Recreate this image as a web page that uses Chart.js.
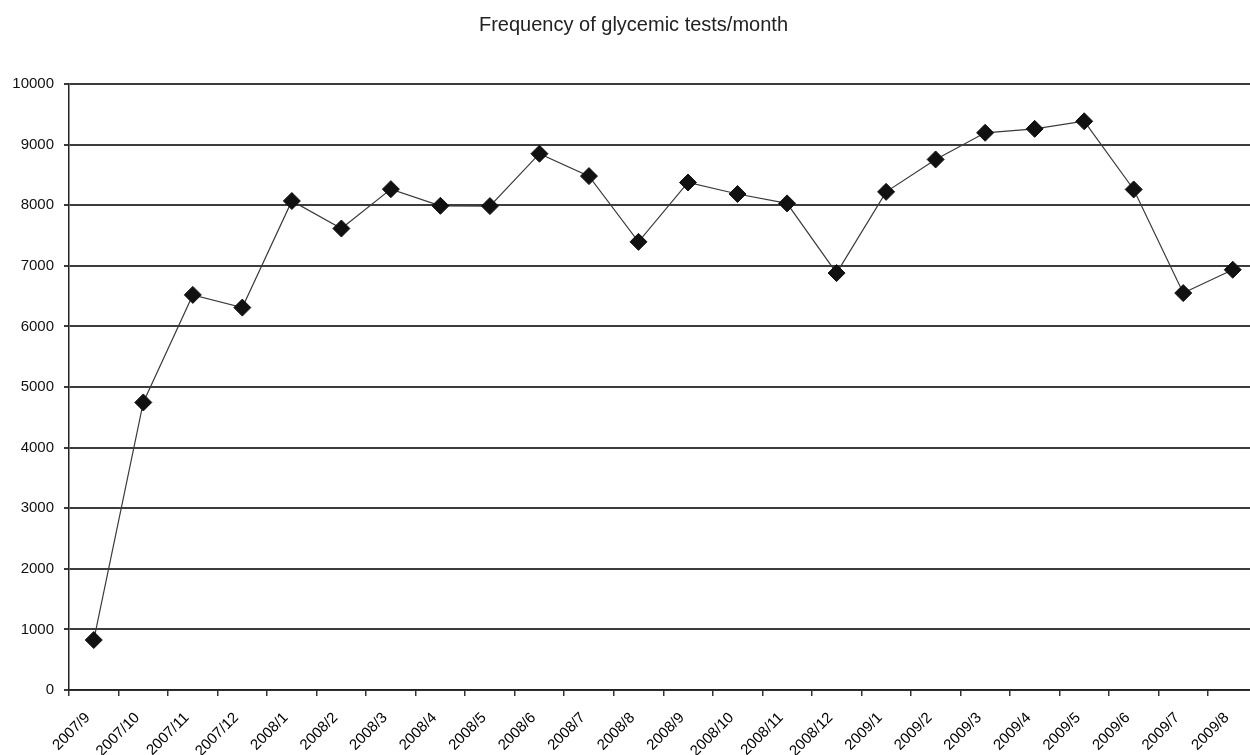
<!DOCTYPE html>
<html>
<head>
<meta charset="utf-8">
<script src="https://cdn.jsdelivr.net/npm/chart.js@4"></script>
<style>
  html, body { margin: 0; padding: 0; background: #fff; overflow: hidden; }
  #wrap { width: 1250px; height: 755px; overflow: hidden; }
  canvas { display: block; }
</style>
</head>
<body>
<div id="wrap"><canvas id="c" width="1267" height="755"></canvas></div>
<script>
// Monthly categories, Sept 2007 to Aug 2009
const months = [
  '2007/9', '2007/10', '2007/11', '2007/12',
  '2008/1', '2008/2', '2008/3', '2008/4', '2008/5', '2008/6',
  '2008/7', '2008/8', '2008/9', '2008/10', '2008/11', '2008/12',
  '2009/1', '2009/2', '2009/3', '2009/4', '2009/5', '2009/6',
  '2009/7', '2009/8'
];

// Number of glycemic tests recorded each month
const testsPerMonth = [
  825, 4745, 6520, 6310,
  8070, 7615, 8265, 7990, 7985, 8850,
  8480, 7395, 8375, 8185, 8030, 6880,
  8220, 8755, 9195, 9260, 9385, 8260,
  6550, 6935
];

// Value axis range and step
const yMin = 0;
const yMax = 10000;
const yStep = 1000;

const chartTitle = 'Frequency of glycemic tests/month';

const FONT = "'Liberation Sans', Arial, sans-serif";

new Chart(document.getElementById('c'), {
  type: 'line',
  data: {
    labels: months,
    datasets: [{
      data: testsPerMonth,
      borderColor: '#3a3a3a',
      borderWidth: 1.2,
      tension: 0,
      fill: false,
      pointStyle: 'rectRot',
      pointRadius: 8.5,
      pointBackgroundColor: '#111',
      pointBorderColor: '#111',
      pointBorderWidth: 1
    }]
  },
  options: {
    responsive: false,
    animation: false,
    layout: { padding: 0 },
    plugins: {
      legend: { display: false },
      tooltip: { enabled: false },
      title: {
        display: true,
        text: chartTitle,
        color: '#222',
        font: { family: FONT, size: 20, weight: 'normal' },
        padding: { top: 13, bottom: 47 }
      }
    },
    scales: {
      x: {
        type: 'category',
        offset: true,
        grid: {
          offset: true,
          drawOnChartArea: false,
          drawTicks: true,
          tickLength: 6,
          color: '#333',
          lineWidth: 1.5
        },
        border: { color: '#222', width: 1.5 },
        ticks: {
          minRotation: 45,
          maxRotation: 45,
          autoSkip: false,
          padding: 13,
          labelOffset: -6,
          color: '#000',
          font: { family: FONT, size: 15 }
        },
        afterFit(scale) { scale.height = 65; }
      },
      y: {
        min: yMin,
        max: yMax,
        ticks: {
          stepSize: yStep,
          padding: 10,
          color: '#111',
          font: { family: FONT, size: 15 },
          callback: (v) => String(v)
        },
        grid: {
          color: '#3c3c3c',
          lineWidth: 2,
          tickLength: 5
        },
        border: { color: '#222', width: 1.5 },
        afterFit(scale) { scale.width = 69; }
      }
    }
  }
});
</script>
</body>
</html>
